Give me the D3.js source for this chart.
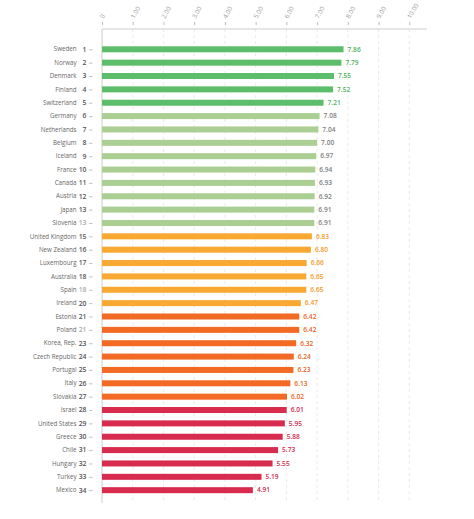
<!DOCTYPE html>
<html><head><meta charset="utf-8">
<script src="https://cdn.jsdelivr.net/npm/d3@7"></script>
<style>body{margin:0;background:#fff}svg{display:block}text{font-family:"Open Sans",sans-serif}</style>
</head><body>
<svg id="c" width="474" height="519"></svg>
<script>
const countries = ["Sweden","Norway","Denmark","Finland","Switzerland","Germany","Netherlands","Belgium","Iceland","France","Canada","Austria","Japan","Slovenia","United Kingdom","New Zealand","Luxembourg","Australia","Spain","Ireland","Estonia","Poland","Korea, Rep.","Czech Republic","Portugal","Italy","Slovakia","Israel","United States","Greece","Chile","Hungary","Turkey","Mexico"];
const values = [7.86,7.79,7.55,7.52,7.21,7.08,7.04,7.00,6.97,6.94,6.93,6.92,6.91,6.91,6.83,6.80,6.66,6.65,6.65,6.47,6.42,6.42,6.32,6.24,6.23,6.13,6.02,6.01,5.95,5.88,5.73,5.55,5.19,4.91];
const ranks = [1,2,3,4,5,6,7,8,9,10,11,12,13,13,15,16,17,18,18,20,21,21,23,24,25,26,27,28,29,30,31,32,33,34];
const tiedRank = [false,false,false,false,false,false,false,false,false,false,false,false,false,true,false,false,false,false,true,false,false,true,false,false,false,false,false,false,false,false,false,false,false,false];
const groups = [0,0,0,0,0,1,1,1,1,1,1,1,1,1,2,2,2,2,2,2,3,3,3,3,3,3,3,4,4,4,4,4,4,4];
const tickValues = [0,1,2,3,4,5,6,7,8,9,10];
const tickLabels = ["0","1.00","2.00","3.00","4.00","5.00","6.00","7.00","8.00","9.00","10.00"];
const barColors = ["#5cbd6b","#abcf92","#f9a832","#f26a24","#d82c4f"];
const labelColors = ["#4fb160","#808080","#f39a26","#ea6322","#cf2a4c"];

const svg = d3.select("#c");
const x = d3.scaleLinear().domain([0,10]).range([102,409.3]);
const y = d3.scaleBand().domain(countries).range([42.62,496.86]).paddingInner(0.55).paddingOuter(0.275);

svg.append("g").selectAll("line").data(tickValues.slice(1)).join("line")
  .attr("x1",d=>x(d)).attr("x2",d=>x(d)).attr("y1",29).attr("y2",503)
  .attr("stroke","#e4e4e4").attr("stroke-width",0.8).attr("stroke-dasharray","3,3");

const ax = svg.append("g").attr("transform","translate(0,29)")
  .call(d3.axisTop(x).tickValues(tickValues).tickFormat((d,i)=>tickLabels[i]).tickSize(0).tickPadding(0));
ax.select(".domain").remove();
ax.selectAll(".tick text").remove();
ax.selectAll(".tick").append("line").attr("y1",-7).attr("y2",-4).attr("stroke","#bbb");
ax.selectAll(".tick").append("text")
  .attr("transform","translate(1,-10) rotate(-60)")
  .attr("text-anchor","start").attr("fill","#999").attr("font-size",6.3)
  .text((d,i)=>tickLabels[i]);
svg.append("line").attr("x1",x(0)).attr("x2",427).attr("y1",29).attr("y2",29).attr("stroke","#ccc");
svg.append("line").attr("x1",x(0)).attr("x2",x(0)).attr("y1",29).attr("y2",503).attr("stroke","#ccc");

const rows = svg.append("g").selectAll("g").data(countries).join("g");
rows.append("rect")
  .attr("x",x(0)).attr("y",d=>y(d)).attr("height",y.bandwidth())
  .attr("width",(d,i)=>x(values[i])-x(0)).attr("fill",(d,i)=>barColors[groups[i]]);
rows.append("text").attr("x",76.5).attr("y",d=>y(d)+y.bandwidth()/2).attr("dy","0.35em")
  .attr("text-anchor","end").attr("font-size",6.2).attr("fill","#666").attr("textLength",null).text(d=>d);
rows.append("text").attr("x",86.5).attr("y",d=>y(d)+y.bandwidth()/2).attr("dy","0.35em")
  .attr("text-anchor","end").attr("font-size",6.8).attr("font-weight","600")
  .attr("fill",(d,i)=>tiedRank[i]?"#aaa":"#555").text((d,i)=>ranks[i]);
rows.append("line").attr("x1",89).attr("x2",92.5).attr("y1",d=>y(d)+y.bandwidth()/2+0.5).attr("y2",d=>y(d)+y.bandwidth()/2+0.5)
  .attr("stroke","#aaa").attr("stroke-width",0.7);
rows.append("text").attr("x",(d,i)=>x(values[i])+4).attr("y",d=>y(d)+y.bandwidth()/2).attr("dy","0.35em")
  .attr("font-size",6.6).attr("font-weight","600").attr("fill",(d,i)=>labelColors[groups[i]])
  .text((d,i)=>values[i].toFixed(2));
</script>
</body></html>
